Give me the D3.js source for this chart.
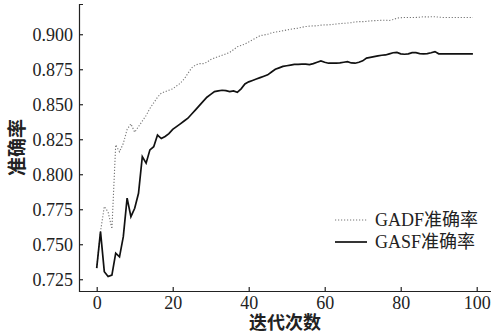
<!DOCTYPE html>
<html>
<head>
<meta charset="utf-8">
<script src="https://cdn.jsdelivr.net/npm/d3@7"></script>
<style>
body { margin: 0; background: #fff; }
</style>
</head>
<body>
<script>
// iteration index 0..99
var epochs = d3.range(0, 100);

var gadf = [0.733, 0.759, 0.777, 0.773, 0.761, 0.821, 0.816, 0.822, 0.832, 0.836,
            0.830, 0.834, 0.838, 0.842, 0.847, 0.851, 0.855, 0.858, 0.859, 0.860,
            0.861, 0.863, 0.865, 0.868, 0.872, 0.876, 0.878, 0.879, 0.879, 0.880,
            0.882, 0.883, 0.884, 0.885, 0.886, 0.887, 0.889, 0.891, 0.892, 0.893,
            0.8945, 0.896, 0.8975, 0.899, 0.8995, 0.900, 0.901, 0.9015, 0.902, 0.9025,
            0.903, 0.9035, 0.904, 0.9043, 0.905, 0.9055, 0.9058, 0.906, 0.906, 0.9065,
            0.9067, 0.9067, 0.907, 0.9073, 0.9076, 0.9078, 0.908, 0.9083, 0.9088, 0.909,
            0.909, 0.9092, 0.9095, 0.9097, 0.9098, 0.910, 0.910, 0.9098, 0.9105, 0.9115,
            0.9118, 0.912, 0.912, 0.912, 0.912, 0.9122, 0.9125, 0.9123, 0.9125, 0.9125,
            0.9122, 0.912, 0.912, 0.912, 0.912, 0.912, 0.912, 0.912, 0.912, 0.912];

var gasf = [0.733, 0.759, 0.7304, 0.7269, 0.728, 0.7436, 0.741, 0.7554, 0.7829, 0.7697,
            0.7757, 0.7864, 0.8126, 0.8079, 0.8174, 0.8197, 0.828, 0.8255, 0.827, 0.829,
            0.832, 0.834, 0.836, 0.838, 0.840, 0.843, 0.846, 0.849, 0.852, 0.855,
            0.857, 0.859, 0.8595, 0.860, 0.8597, 0.859, 0.8595, 0.8585, 0.861, 0.8645,
            0.866, 0.867, 0.868, 0.869, 0.870, 0.871, 0.873, 0.875, 0.876, 0.877,
            0.8775, 0.878, 0.8785, 0.8785, 0.8787, 0.8787, 0.8783, 0.879, 0.880, 0.881,
            0.880, 0.8793, 0.8793, 0.8793, 0.8795, 0.880, 0.8804, 0.8795, 0.8793, 0.880,
            0.881, 0.883, 0.8835, 0.884, 0.8845, 0.885, 0.8852, 0.886, 0.8868, 0.887,
            0.886, 0.8857, 0.886, 0.8869, 0.8868, 0.8862, 0.886, 0.8862, 0.8868, 0.8876,
            0.886, 0.886, 0.886, 0.886, 0.886, 0.886, 0.886, 0.886, 0.886, 0.886];

var yTicks = [0.725, 0.750, 0.775, 0.800, 0.825, 0.850, 0.875, 0.900];
var xTicks = [0, 20, 40, 60, 80, 100];
var seriesNames = ["GADF准确率", "GASF准确率"];

var width = 491, height = 334;
var plotLeft = 79, plotRight = 491, plotTop = 4, plotBottom = 291;
var serif = "'Liberation Serif', 'Noto Sans CJK SC', serif";

var svg = d3.select("body").append("svg")
    .attr("width", width)
    .attr("height", height);

var x = d3.scaleLinear().domain([-4.66, 103.76]).range([plotLeft, plotRight]);
var y = d3.scaleLinear().domain([0.7166, 0.9216]).range([plotBottom, plotTop]);

var line = d3.line()
    .x(function(d, i) { return x(epochs[i]); })
    .y(function(d) { return y(d); });

// axes
svg.append("g")
    .attr("transform", "translate(" + plotLeft + ",0)")
    .call(d3.axisLeft(y).tickValues(yTicks).tickFormat(d3.format(".3f"))
        .tickSize(-4).tickPadding(6));

svg.append("g")
    .attr("transform", "translate(0," + plotBottom + ")")
    .call(d3.axisBottom(x).tickValues(xTicks).tickSize(-4).tickSizeOuter(0).tickPadding(5));

svg.selectAll(".domain, .tick line").attr("stroke", "#222").attr("stroke-width", 1.2);
svg.selectAll(".tick text")
    .attr("font-family", serif)
    .attr("font-size", 18)
    .attr("fill", "#222");

// lines
svg.append("path")
    .datum(gadf)
    .attr("d", line)
    .attr("fill", "none")
    .attr("stroke", "#777")
    .attr("stroke-width", 1.1)
    .attr("stroke-dasharray", "1.2,1.8");

svg.append("path")
    .datum(gasf)
    .attr("d", line)
    .attr("fill", "none")
    .attr("stroke", "#111")
    .attr("stroke-width", 1.7);

// legend
var legend = svg.append("g").attr("transform", "translate(335,220)");
legend.append("line")
    .attr("x1", 0).attr("x2", 32).attr("y1", 0).attr("y2", 0)
    .attr("stroke", "#777").attr("stroke-width", 1.1)
    .attr("stroke-dasharray", "1.2,1.8");
legend.append("line")
    .attr("x1", 0).attr("x2", 32).attr("y1", 22).attr("y2", 22)
    .attr("stroke", "#111").attr("stroke-width", 1.7);
legend.selectAll("text.leg")
    .data(seriesNames)
    .enter().append("text")
    .attr("class", "leg")
    .attr("x", 40)
    .attr("y", function(d, i) { return i * 22; })
    .attr("dy", "0.35em")
    .attr("font-family", serif)
    .attr("font-size", 18)
    .attr("fill", "#222")
    .text(function(d) { return d; });

// axis titles
svg.append("text")
    .attr("x", (plotLeft + plotRight) / 2)
    .attr("y", 329)
    .attr("text-anchor", "middle")
    .attr("font-family", "'Noto Sans CJK SC', sans-serif")
    .attr("font-weight", "bold")
    .attr("font-size", 18)
    .attr("fill", "#222")
    .text("迭代次数");

svg.append("text")
    .attr("transform", "translate(15," + ((plotTop + plotBottom) / 2) + ") rotate(-90)")
    .attr("dominant-baseline", "central")
    .attr("text-anchor", "middle")
    .attr("font-family", "'Noto Sans CJK SC', sans-serif")
    .attr("font-weight", "bold")
    .attr("font-size", 19)
    .attr("fill", "#222")
    .text("准确率");
</script>
</body>
</html>
